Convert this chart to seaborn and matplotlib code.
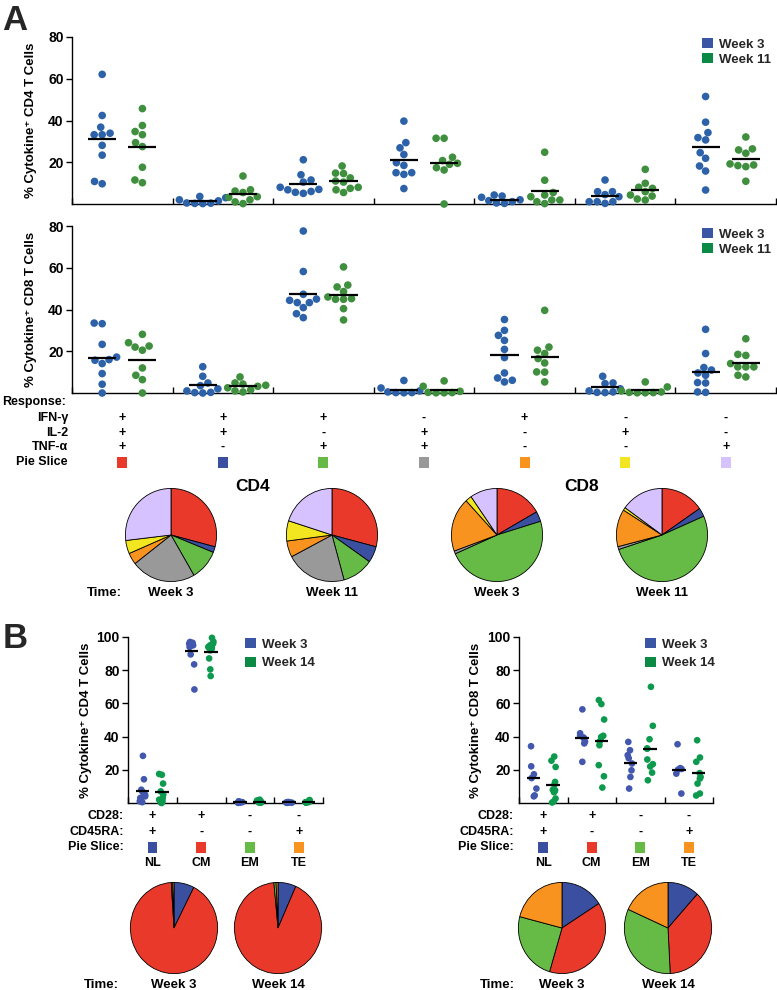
import warnings
import numpy as np
import pandas as pd
import matplotlib
matplotlib.use("Agg")
import matplotlib.pyplot as plt
import seaborn as sns
from matplotlib.patches import Patch, Rectangle
from matplotlib import transforms
warnings.filterwarnings("ignore")

sns.set_theme(style="white")
plt.rcParams["font.family"] = ["Liberation Sans", "DejaVu Sans"]
plt.rcParams["font.weight"] = "bold"
plt.rcParams["axes.labelweight"] = "bold"
np.random.seed(3)  # only for the horizontal jitter of panel B strips

# --- Panel A data: 7 cytokine combinations ---
responses = ["+++", "++-", "+-+", "-++", "+--", "-+-", "--+"]
ifn = ["+", "+", "+", "-", "+", "-", "-"]
il2 = ["+", "+", "-", "+", "-", "+", "-"]
tnf = ["+", "-", "+", "+", "-", "-", "+"]
weeks_a = ["Week 3", "Week 11"]

cd4_w3 = [
    [62.1, 42.4, 36.8, 33.9, 33.2, 33.2, 28.1, 23.4, 10.8, 9.7],
    [3.6, 3.0, 2.0, 1.5, 0.5, 0.4, 0.3, 0.2],
    [21.2, 14.0, 11.5, 10.5, 8.0, 7.0, 6.8, 5.6, 5.1, 6.0],
    [39.7, 29.4, 26.9, 23.7, 19.8, 18.5, 15.0, 15.0, 14.2, 7.4],
    [4.3, 3.8, 3.2, 2.0, 1.6, 1.1, 0.5, 0.3],
    [11.5, 5.9, 5.9, 4.5, 3.5, 1.1, 1.1, 1.1, 0.3],
    [51.5, 39.2, 34.2, 31.8, 30.7, 24.6, 21.9, 18.2, 15.8, 6.7],
]
cd4_w11 = [
    [45.7, 37.6, 34.7, 33.2, 29.4, 27.5, 17.6, 11.5, 10.2],
    [13.4, 6.8, 6.2, 5.5, 3.5, 3.2, 2.0, 1.0, 0.2],
    [18.2, 14.8, 14.6, 12.5, 11.0, 10.5, 8.0, 7.5, 6.8, 5.5],
    [31.5, 31.5, 22.4, 20.8, 19.5, 19.0, 17.4, 16.3, 0.0],
    [24.8, 11.4, 5.5, 4.3, 3.5, 1.9, 1.9, 1.1, 0.2],
    [16.6, 9.9, 8.0, 7.5, 5.9, 4.3, 3.8, 2.4, 1.9],
    [32.1, 26.4, 25.9, 24.3, 19.2, 18.7, 18.4, 17.9, 10.9],
]
cd8_w3 = [
    [33.5, 33.2, 23.3, 17.2, 16.0, 15.7, 14.1, 9.3, 4.2, 0.0],
    [12.6, 8.0, 4.8, 3.5, 2.0, 1.0, 0.3, 0.2, 0.0],
    [77.6, 58.2, 47.3, 45.0, 44.4, 43.3, 43.3, 40.9, 38.0, 36.1],
    [6.0, 2.4, 1.0, 0.5, 0.2, 0.2, 0.1],
    [35.2, 30.0, 27.6, 25.2, 20.9, 17.0, 9.6, 7.2, 6.1, 5.3],
    [8.0, 4.8, 4.5, 2.0, 1.0, 0.5, 0.3, 0.2],
    [30.5, 18.9, 12.2, 11.0, 9.6, 8.5, 5.0, 4.8, 0.5, 0.3],
]
cd8_w11 = [
    [28.1, 24.1, 22.5, 22.0, 20.5, 12.0, 8.5, 6.4, 0.0],
    [7.7, 4.8, 4.3, 3.7, 3.2, 2.5, 1.5, 1.0, 0.5],
    [60.4, 51.7, 50.8, 48.6, 46.0, 45.2, 44.9, 44.9, 40.4, 35.0],
    [5.8, 3.2, 0.8, 0.3, 0.2, 0.1, 0.1],
    [39.6, 22.0, 20.5, 18.9, 16.5, 14.4, 10.0, 10.1, 5.3],
    [5.3, 2.9, 1.0, 0.5, 0.3, 0.2, 0.1, 0.1],
    [26.0, 18.5, 18.0, 14.1, 12.5, 12.5, 12.5, 8.5, 7.7],
]

slice_colors_a = ["#e8392a", "#3a4fa0", "#66bb46", "#999999",
                  "#f7931e", "#f2e620", "#d5c2ff"]
cd4_pie_w3 = [29.0, 2.0, 10.5, 22.8, 4.0, 4.6, 26.8]
cd4_pie_w11 = [29.0, 5.6, 11.0, 21.5, 5.6, 7.0, 20.0]
cd8_pie_w3 = [16.7, 3.5, 48.0, 1.0, 18.7, 2.2, 9.6]
cd8_pie_w11 = [15.4, 3.0, 51.5, 1.0, 13.0, 1.0, 15.0]

# --- Panel B data: memory phenotypes ---
phenos = ["NL", "CM", "EM", "TE"]
cd28 = ["+", "+", "-", "-"]
cd45ra = ["+", "-", "-", "+"]
weeks_b = ["Week 3", "Week 14"]

cd4b_w3 = [
    [28.4, 14.3, 8.0, 6.5, 5.0, 4.0, 3.0, 2.0, 1.0, 0.5],
    [97.0, 96.5, 96.0, 96.0, 95.5, 95.0, 94.5, 94.0, 89.5, 83.5, 68.4],
    [1.0, 0.8, 0.6, 0.5, 0.5, 0.4, 0.3, 0.3, 0.2, 0.1],
    [0.6, 0.5, 0.4, 0.3, 0.3, 0.2, 0.2, 0.1],
]
cd4b_w14 = [
    [17.5, 17.0, 11.7, 7.0, 5.0, 3.0, 2.0, 1.0, 0.5, 0.0],
    [99.5, 97.2, 96.0, 95.0, 94.0, 93.5, 92.2, 92.0, 87.1, 80.5, 76.5],
    [2.0, 1.5, 1.2, 1.0, 0.8, 0.6, 0.5, 0.4, 0.3, 0.2],
    [1.8, 1.5, 1.0, 0.8, 0.6, 0.5, 0.4, 0.3, 0.2],
]
cd8b_w3 = [
    [34.2, 22.1, 17.3, 15.0, 8.7, 4.6, 4.0],
    [56.4, 42.0, 40.5, 39.5, 39.0, 37.0, 35.9, 24.8],
    [36.8, 31.8, 28.8, 27.0, 23.8, 19.7, 15.7, 8.7],
    [35.4, 21.0, 20.5, 20.1, 17.7, 5.7],
]
cd8b_w14 = [
    [28.0, 25.5, 21.7, 12.7, 11.0, 8.0, 7.7, 7.0, 6.5, 2.7, 1.0, 0.3],
    [62.0, 59.6, 50.3, 40.5, 39.8, 39.5, 37.0, 34.8, 22.8, 16.1, 9.3],
    [70.0, 46.5, 38.4, 32.8, 32.8, 26.2, 23.4, 22.0, 18.3, 13.7],
    [37.8, 27.4, 24.8, 18.0, 15.7, 14.7, 11.7, 5.7, 4.5],
]

slice_colors_b = ["#3a4fa0", "#e8392a", "#66bb46", "#f7931e"]
cd4b_pie_w3 = [7.5, 91.5, 0.5, 0.5]
cd4b_pie_w14 = [6.7, 91.8, 0.8, 0.7]
cd8b_pie_w3 = [16.0, 38.6, 24.4, 21.0]
cd8b_pie_w14 = [11.7, 37.5, 32.5, 18.3]

dots_a = ["#2d62a8", "#3f8f3f"]
dots_b = ["#4257ad", "#0e9a4e"]
legend_cols = ["#3b55a5", "#0b8a45"]

# --- helpers ---
W, H = 777, 990
fig = plt.figure(figsize=(W / 100, H / 100), dpi=100)
fig.patch.set_facecolor("white")


def fx(px):
    return px / W


def fy(py):
    return 1 - py / H


def box(x0, y0, x1, y1):
    return [fx(x0), fy(y1), fx(x1) - fx(x0), fy(y0) - fy(y1)]


def long_df(cats, a, b, weeks):
    rows = []
    for c, va, vb in zip(cats, a, b):
        rows += [(c, weeks[0], v) for v in va]
        rows += [(c, weeks[1], v) for v in vb]
    return pd.DataFrame(rows, columns=["cat", "week", "val"])


def dot_panel(ax, df, cats, weeks, palette, size, ylim, yticks, ylabel, lab_x,
              swarm=True):
    kw = dict(data=df, x="cat", y="val", hue="week", order=cats,
              hue_order=weeks, palette=palette, dodge=True, size=size,
              linewidth=0, legend=False, clip_on=False, ax=ax)
    if swarm:
        sns.swarmplot(**kw)
    else:
        sns.stripplot(jitter=0.13, **kw)
    means = df.groupby(["cat", "week"])["val"].mean()
    for i, c in enumerate(cats):
        for j, w in enumerate(weeks):
            xc = i - 0.2 + 0.4 * j
            ax.hlines(means[(c, w)], xc - 0.14, xc + 0.14, color="black",
                      lw=1.6, zorder=5)
    ax.set_xlim(-0.5, len(cats) - 0.5)
    ax.set_ylim(*ylim)
    ax.set_xticks(np.arange(-0.5, len(cats), 1.0))
    ax.set_xticklabels([])
    ax.set_yticks(yticks)
    ax.set_yticklabels([str(t) for t in yticks], fontweight="bold")
    ax.tick_params(axis="x", direction="in", length=4, width=1,
                   color="black", bottom=True)
    ax.tick_params(axis="y", direction="out", length=4, width=1,
                   color="black", left=True, labelsize=10, pad=2,
                   labelcolor="black")
    sns.despine(ax=ax)
    for s in ("left", "bottom"):
        ax.spines[s].set_color("black")
        ax.spines[s].set_linewidth(1.0)
    ax.set_xlabel("")
    ax.set_ylabel(ylabel, fontsize=9.5, fontweight="bold", color="black")
    ax.yaxis.set_label_coords(lab_x, 0.5)


def week_legend(ax, labels, px, py, spacing):
    handles = [Patch(facecolor=c, edgecolor="none") for c in legend_cols]
    ax.legend(handles, labels, loc="upper left", bbox_to_anchor=(fx(px), fy(py)),
              bbox_transform=fig.transFigure, frameon=False, handlelength=0.8,
              handleheight=0.8, handletextpad=0.5, borderaxespad=0,
              borderpad=0, labelspacing=spacing,
              prop=dict(weight="bold", size=9.5))


def pie(cx, cy, w, h, vals, colors):
    pax = fig.add_axes(box(cx - w / 2, cy - h / 2, cx + w / 2, cy + h / 2))
    pax.pie(vals, colors=colors, startangle=90, counterclock=False,
            wedgeprops=dict(edgecolor="black", linewidth=0.6))
    pax.set_aspect("auto")
    pax.set_xlim(-1.02, 1.02)
    pax.set_ylim(-1.02, 1.02)
    pax.axis("off")


def txt(x, y, s, size=9, ha="center", **kw):
    return fig.text(x, y, s, ha=ha, va="center", fontsize=size,
                    fontweight="bold", color="black", **kw)


# --- Panel A: dot plots ---
ax4 = fig.add_axes(box(72, 37, 776, 204))
dot_panel(ax4, long_df(responses, cd4_w3, cd4_w11, weeks_a), responses,
          weeks_a, dots_a, 5.5, (0, 80), [20, 40, 60, 80],
          "% Cytokine\u207a CD4 T Cells", -0.05)
week_legend(ax4, weeks_a, 702, 38, 0.2)

ax8 = fig.add_axes(box(72, 226, 776, 393))
dot_panel(ax8, long_df(responses, cd8_w3, cd8_w11, weeks_a), responses,
          weeks_a, dots_a, 5.5, (0, 80), [20, 40, 60, 80],
          "% Cytokine\u207a CD8 T Cells", -0.05)
week_legend(ax8, weeks_a, 702, 228, 0.2)

# response table
tr8 = transforms.blended_transform_factory(ax8.transData, fig.transFigure)
txt(fx(2), fy(402), "Response:", ha="left")
for name, signs, py in zip(["IFN-\u03b3", "IL-2", "TNF-\u03b1"],
                           [ifn, il2, tnf], [418, 433, 447]):
    txt(fx(68), fy(py), name, ha="right")
    for i, s in enumerate(signs):
        txt(i, fy(py), s, transform=tr8)
txt(fx(68), fy(462), "Pie Slice", ha="right")
for i, c in enumerate(slice_colors_a):
    fig.add_artist(Rectangle((i - 0.05, fy(462) - 5.5 / H), 0.1, 11 / H,
                             transform=tr8, facecolor=c, edgecolor="none"))

txt(fx(253), fy(486), "CD4", size=12.5)
txt(fx(582), fy(486), "CD8", size=12.5)
for cx, vals in zip([171, 332, 497, 662],
                    [cd4_pie_w3, cd4_pie_w11, cd8_pie_w3, cd8_pie_w11]):
    pie(cx, 535, 93, 95, vals, slice_colors_a)
txt(fx(122), fy(593), "Time:", size=9.5, ha="right")
for cx, lab in zip([171, 332, 497, 662], weeks_a * 2):
    txt(fx(cx), fy(593), lab, size=9.5)

fig.text(fx(2), fy(30), "A", fontsize=25, fontweight="bold", ha="left",
         va="baseline")
fig.text(fx(3), fy(648), "B", fontsize=25, fontweight="bold", ha="left",
         va="baseline")

# --- Panel B: dot plots ---
axb4 = fig.add_axes(box(128, 637, 323, 803))
dot_panel(axb4, long_df(phenos, cd4b_w3, cd4b_w14, weeks_b), phenos,
          weeks_b, dots_b, 4.8, (0, 100), [20, 40, 60, 80, 100],
          "% Cytokine\u207a CD4 T Cells", -0.185, swarm=False)
week_legend(axb4, weeks_b, 245, 638, 0.45)

axb8 = fig.add_axes(box(519, 637, 713, 803))
dot_panel(axb8, long_df(phenos, cd8b_w3, cd8b_w14, weeks_b), phenos,
          weeks_b, dots_b, 4.8, (0, 100), [20, 40, 60, 80, 100],
          "% Cytokine\u207a CD8 T Cells", -0.19, swarm=False)
week_legend(axb8, weeks_b, 645, 638, 0.45)

for ax, lab_x in [(axb4, 124), (axb8, 514)]:
    tr = transforms.blended_transform_factory(ax.transData, fig.transFigure)
    for name, signs, py in zip(["CD28:", "CD45RA:"], [cd28, cd45ra], [816, 832]):
        txt(fx(lab_x), fy(py), name, ha="right")
        for i, s in enumerate(signs):
            txt(i, fy(py), s, transform=tr)
    txt(fx(lab_x), fy(847), "Pie Slice:", ha="right")
    for i, (c, p) in enumerate(zip(slice_colors_b, phenos)):
        fig.add_artist(Rectangle((i - 0.1, fy(847) - 5.5 / H), 0.2, 11 / H,
                                 transform=tr, facecolor=c, edgecolor="none"))
        txt(i, fy(863), p, transform=tr)

for cx, vals in zip([174, 278, 562, 668],
                    [cd4b_pie_w3, cd4b_pie_w14, cd8b_pie_w3, cd8b_pie_w14]):
    pie(cx, 928, 89, 93, vals, slice_colors_b)
for px in (119, 515):
    txt(fx(px), fy(985), "Time:", size=9.5, ha="right")
for cx, lab in zip([174, 278, 562, 668], weeks_b * 2):
    txt(fx(cx), fy(985), lab, size=9.5)

fig.savefig("out.png", dpi=100, facecolor="white")
